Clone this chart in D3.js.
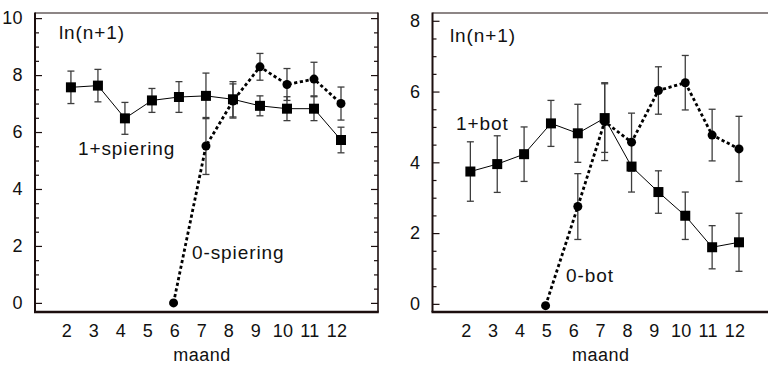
<!DOCTYPE html>
<html>
<head>
<meta charset="utf-8">
<script src="https://cdn.jsdelivr.net/npm/d3@7"></script>
<style>
  body { margin: 0; background: #fff; }
  svg text { font-family: "Liberation Sans", Arial, sans-serif; fill: #111; }
</style>
</head>
<body>
<svg id="chart" width="768" height="365"></svg>
<script>
// months on the x axis
const months = [2, 3, 4, 5, 6, 7, 8, 9, 10, 11, 12];
const monthLabels = ['2', '3', '4', '5', '6', '7', '8', '9', '10', '11', '12'];

// left panel: spiering
const spieringOneX = [2, 3, 4, 5, 6, 7, 8, 9, 10, 11, 12];
const spieringOneMean = [7.57, 7.63, 6.48, 7.11, 7.23, 7.27, 7.15, 6.92, 6.82, 6.82, 5.72];
const spieringOneErr = [0.57, 0.57, 0.56, 0.42, 0.54, 0.8, 0.62, 0.35, 0.42, 0.42, 0.45];
const spieringZeroX = [5.8, 7, 8, 9, 10, 11, 12];
const spieringZeroMean = [0, 5.51, 7.09, 8.29, 7.67, 7.86, 7.0];
const spieringZeroErr = [0, 1.0, 0.6, 0.47, 0.56, 0.59, 0.58];

// right panel: bot
const botOneX = [2, 3, 4, 5, 6, 7, 8, 9, 10, 11, 12];
const botOneMean = [3.74, 3.95, 4.23, 5.1, 4.82, 5.25, 3.88, 3.16, 2.49, 1.6, 1.74];
const botOneErr = [0.84, 0.8, 0.77, 0.65, 0.82, 0.97, 0.72, 0.6, 0.67, 0.61, 0.82];
const botZeroX = [4.8, 6, 7, 8, 9, 10, 11, 12];
const botZeroMean = [-0.05, 2.75, 5.15, 4.57, 6.03, 6.25, 4.77, 4.38];
const botZeroErr = [0, 0.93, 1.1, 0.82, 0.67, 0.77, 0.73, 0.92];

const leftTicks = [0, 2, 4, 6, 8, 10];
const rightTicks = [0, 2, 4, 6, 8];

const zip = (xs, ms, es) => xs.map((x, i) => ({ x: x, y: ms[i], e: es[i] }));

const svg = d3.select('#chart');
const frameColor = '#1c0f0f';

function drawPanel(cfg) {
  const x = d3.scaleLinear().domain(cfg.xDomain).range([cfg.left, cfg.right]);
  const y = d3.scaleLinear().domain(cfg.yDomain).range([cfg.bottom, cfg.top]);
  const g = svg.append('g');

  // minor ticks every 0.5
  const minor = d3.range(Math.ceil(cfg.yDomain[0] * 2) / 2, cfg.yDomain[1], 0.5)
    .filter(v => v % 2 !== 0);

  const leftMajor = g.append('g')
    .attr('transform', `translate(${cfg.left},0)`)
    .call(d3.axisLeft(y).tickValues(cfg.ticks).tickSizeInner(-7).tickSizeOuter(0).tickPadding(12).tickFormat(d3.format('d')));
  leftMajor.select('.domain').remove();
  leftMajor.selectAll('line').attr('stroke', frameColor).attr('stroke-width', 1.2);
  leftMajor.selectAll('text').style('font-size', '18px').style('letter-spacing', '0.4px').attr('fill', '#111');

  const leftMinor = g.append('g')
    .attr('transform', `translate(${cfg.left},0)`)
    .call(d3.axisLeft(y).tickValues(minor).tickSizeInner(-4).tickSizeOuter(0).tickFormat(''));
  leftMinor.select('.domain').remove();
  leftMinor.selectAll('line').attr('stroke', frameColor).attr('stroke-width', 1.2);

  if (cfg.rightBorder) {
    const rMajor = g.append('g')
      .attr('transform', `translate(${cfg.right},0)`)
      .call(d3.axisRight(y).tickValues(cfg.ticks).tickSizeInner(-7).tickSizeOuter(0).tickFormat(''));
    rMajor.select('.domain').remove();
    rMajor.selectAll('line').attr('stroke', frameColor).attr('stroke-width', 1.2);
    const rMinor = g.append('g')
      .attr('transform', `translate(${cfg.right},0)`)
      .call(d3.axisRight(y).tickValues(minor).tickSizeInner(-4).tickSizeOuter(0).tickFormat(''));
    rMinor.select('.domain').remove();
    rMinor.selectAll('line').attr('stroke', frameColor).attr('stroke-width', 1.2);
  }

  // x labels
  const xAxis = g.append('g')
    .attr('transform', `translate(-4.5,${cfg.bottom})`)
    .call(d3.axisBottom(x).tickValues(months).tickSize(0).tickPadding(12.5).tickFormat((d, i) => monthLabels[i]));
  xAxis.select('.domain').remove();
  xAxis.selectAll('text').style('font-size', '18px').style('letter-spacing', '0.3px').attr('fill', '#111');

  // frame
  g.append('line').attr('x1', cfg.left).attr('x2', cfg.right).attr('y1', cfg.top).attr('y2', cfg.top)
    .attr('stroke', frameColor).attr('stroke-width', 1.2);
  g.append('line').attr('x1', cfg.left).attr('x2', cfg.left).attr('y1', cfg.top - 0.6).attr('y2', cfg.bottom)
    .attr('stroke', frameColor).attr('stroke-width', 2);
  if (cfg.rightBorder) {
    g.append('line').attr('x1', cfg.right).attr('x2', cfg.right).attr('y1', cfg.top - 0.6).attr('y2', cfg.bottom)
      .attr('stroke', frameColor).attr('stroke-width', 1.6);
  }
  g.append('line').attr('x1', cfg.left - 1).attr('x2', cfg.right + 0.8).attr('y1', cfg.bottom).attr('y2', cfg.bottom)
    .attr('stroke', frameColor).attr('stroke-width', 2.4);

  // error bars
  const all = cfg.zero.concat(cfg.one).filter(d => d.e > 0);
  const eb = g.append('g').attr('stroke', '#3d3d3d').attr('stroke-width', 1.3);
  eb.selectAll('line.v').data(all).join('line')
    .attr('x1', d => x(d.x)).attr('x2', d => x(d.x))
    .attr('y1', d => y(d.y + d.e)).attr('y2', d => y(d.y - d.e));
  eb.selectAll('line.t').data(all).join('line').attr('class', 't')
    .attr('x1', d => x(d.x) - 3.5).attr('x2', d => x(d.x) + 3.5)
    .attr('y1', d => y(d.y + d.e)).attr('y2', d => y(d.y + d.e));
  eb.selectAll('line.b').data(all).join('line').attr('class', 'b')
    .attr('x1', d => x(d.x) - 3.5).attr('x2', d => x(d.x) + 3.5)
    .attr('y1', d => y(d.y - d.e)).attr('y2', d => y(d.y - d.e));

  const line = d3.line().x(d => x(d.x)).y(d => y(d.y));

  g.append('path').datum(cfg.one)
    .attr('d', line).attr('fill', 'none').attr('stroke', '#000').attr('stroke-width', 1);

  g.append('path').datum(cfg.zero)
    .attr('d', line).attr('fill', 'none').attr('stroke', '#000')
    .attr('stroke-width', 2.8).attr('stroke-dasharray', '3.2,2.6');

  g.selectAll('rect.sq').data(cfg.one).join('rect')
    .attr('x', d => x(d.x) - 5).attr('y', d => y(d.y) - 5)
    .attr('width', 10).attr('height', 10).attr('fill', '#000');

  g.selectAll('circle.ci').data(cfg.zero).join('circle')
    .attr('cx', d => x(d.x)).attr('cy', d => y(d.y)).attr('r', 4.5).attr('fill', '#000');

  // texts
  cfg.notes.forEach(n => {
    g.append('text').attr('x', cfg.left + n.dx).attr('y', n.y)
      .style('font-size', '19px').style('letter-spacing', '0.9px').text(n.text);
  });
  g.append('text')
    .attr('x', (x(2) + x(12)) / 2 - 4)
    .attr('y', 361)
    .attr('text-anchor', 'middle')
    .style('font-size', '18px').style('letter-spacing', '0.5px')
    .text('maand');
}

drawPanel({
  left: 35, right: 378, top: 13, bottom: 312,
  xDomain: [0.67, 13.37], yDomain: [-0.32, 10.18],
  ticks: leftTicks, rightBorder: true,
  one: zip(spieringOneX, spieringOneMean, spieringOneErr),
  zero: zip(spieringZeroX, spieringZeroMean, spieringZeroErr),
  notes: [
    { text: 'ln(n+1)', dx: 24, y: 38.5 },
    { text: '1+spiering', dx: 43, y: 154.5 },
    { text: '0-spiering', dx: 157, y: 258.5 }
  ]
});

drawPanel({
  left: 432.5, right: 768, top: 13, bottom: 312,
  xDomain: [0.59, 13.08], yDomain: [-0.23, 8.22],
  ticks: rightTicks, rightBorder: false,
  one: zip(botOneX, botOneMean, botOneErr),
  zero: zip(botZeroX, botZeroMean, botZeroErr),
  notes: [
    { text: 'ln(n+1)', dx: 17.5, y: 41.5 },
    { text: '1+bot', dx: 23.5, y: 129.5 },
    { text: '0-bot', dx: 133.5, y: 281.5 }
  ]
});
</script>
</body>
</html>
